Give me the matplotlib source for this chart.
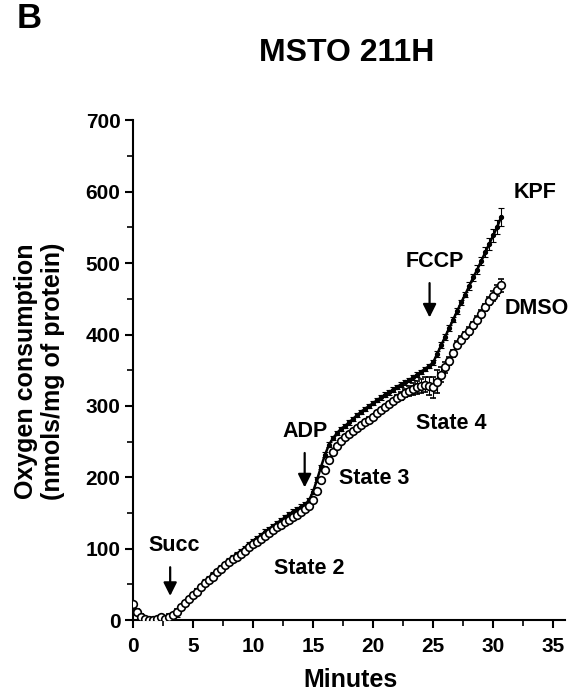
import numpy as np
import matplotlib
matplotlib.use('Agg')
import matplotlib.pyplot as plt

plt.rcParams['font.family'] = ['Liberation Sans', 'DejaVu Sans']
plt.rcParams['font.weight'] = 'bold'

# time points (minutes), one reading every 20 s
minutes = np.arange(93) / 3.0

dmso = [22, 12, 5, 1, 0, 0, 1, 4, 2, 5,
        7, 12, 18, 24, 30, 35, 40, 46, 52, 56,
        61, 67, 72, 77, 81, 85, 89, 93, 97, 102,
        106, 110, 114, 118, 122, 126, 130, 133, 137, 140,
        144, 147, 151, 155, 160, 168, 181, 196, 211, 225,
        236, 244, 251, 257, 261, 265, 269, 273, 277, 281,
        285, 290, 294, 299, 303, 307, 311, 314, 318, 321,
        324, 326, 328, 330, 328, 326, 334, 344, 354, 363,
        374, 386, 393, 399, 405, 413, 421, 429, 438, 447,
        454, 462, 469]
dmso_err = [3] * 66 + [4, 5, 6, 7, 8, 9, 10, 10, 12, 15, 16, 10, 8, 6] + [5] * 9 + [6, 7, 8, 9]

kpf = [20, 10, 4, 1, 0, 0, 0, 1, 1, 2,
       3, 8, 17, 23, 30, 36, 42, 48, 54, 59,
       64, 69, 74, 79, 84, 88, 93, 97, 101, 106,
       111, 115, 119, 124, 128, 132, 136, 140, 144, 148,
       152, 155, 159, 162, 168, 180, 197, 215, 232, 246,
       255, 262, 268, 272, 277, 282, 287, 292, 296, 300,
       304, 308, 312, 316, 319, 323, 327, 330, 333, 336,
       340, 344, 348, 352, 356, 361, 373, 385, 397, 409,
       421, 433, 445, 456, 468, 480, 491, 503, 515, 527,
       539, 551, 565]
kpf_err = [3] * 76 + [4] * 8 + [5, 5, 6, 6, 7, 8, 9, 10, 13]

fig = plt.figure(figsize=(5.78, 6.96), dpi=100)
ax = fig.add_axes([0.23, 0.109, 0.748, 0.718])

ax.errorbar(minutes, kpf, yerr=kpf_err, color='black', lw=1.8, marker='o', ms=2.8,
            mfc='black', mec='black', elinewidth=0.8, capsize=2.5, capthick=0.8, zorder=3)
ax.errorbar(minutes, dmso, yerr=dmso_err, color='black', lw=0, marker='o', ms=5.5,
            mfc='white', mec='black', mew=1.2, elinewidth=0.8, capsize=2.5, capthick=0.8, zorder=4)

ax.set_xlim(0, 36)
ax.set_ylim(0, 700)
ax.set_xticks(range(0, 36, 5))
ax.set_xticks(np.arange(2.5, 36, 5), minor=True)
ax.set_yticks(range(0, 701, 100))
ax.set_yticks(range(50, 700, 100), minor=True)
ax.spines['top'].set_visible(False)
ax.spines['right'].set_visible(False)
for s in ['left', 'bottom']:
    ax.spines[s].set_linewidth(1.5)
ax.tick_params(which='major', length=6, width=1.5, labelsize=15, direction='out')
ax.tick_params(axis='y', which='major', pad=3)
ax.tick_params(axis='x', which='major', pad=6)
ax.tick_params(which='minor', length=4, width=1.2, direction='out')
for lab in ax.get_xticklabels() + ax.get_yticklabels():
    lab.set_fontweight('bold')

# annotations
fs = 15.5
arrow = dict(arrowstyle='-|>', color='black', lw=1.6, mutation_scale=20)
ax.text(3.4, 104, 'Succ', ha='center', va='center', fontsize=fs, fontweight='bold')
ax.annotate('', xy=(3.1, 30), xytext=(3.1, 78), arrowprops=arrow)
ax.text(14.7, 73, 'State 2', ha='center', va='center', fontsize=fs, fontweight='bold')
ax.text(14.3, 264, 'ADP', ha='center', va='center', fontsize=fs, fontweight='bold')
ax.annotate('', xy=(14.3, 182), xytext=(14.3, 238), arrowprops=arrow)
ax.text(20.1, 199, 'State 3', ha='center', va='center', fontsize=fs, fontweight='bold')
ax.text(26.5, 276, 'State 4', ha='center', va='center', fontsize=fs, fontweight='bold')
ax.text(25.1, 502, 'FCCP', ha='center', va='center', fontsize=fs, fontweight='bold')
ax.annotate('', xy=(24.7, 420), xytext=(24.7, 476), arrowprops=arrow)
ax.text(33.5, 599, 'KPF', ha='center', va='center', fontsize=fs, fontweight='bold')
ax.text(33.6, 436, 'DMSO', ha='center', va='center', fontsize=fs, fontweight='bold')

fig.text(0.050, 0.973, 'B', ha='center', va='center', fontsize=25, fontweight='bold')
fig.text(0.600, 0.924, 'MSTO 211H', ha='center', va='center', fontsize=23, fontweight='bold')
fig.text(0.606, 0.023, 'Minutes', ha='center', va='center', fontsize=18, fontweight='bold')
fig.text(0.069, 0.466, 'Oxygen consumption\n(nmols/mg of protein)', ha='center', va='center',
         rotation=90, fontsize=18, fontweight='bold', multialignment='center', linespacing=1.15)

fig.savefig('out.png', dpi=100)
